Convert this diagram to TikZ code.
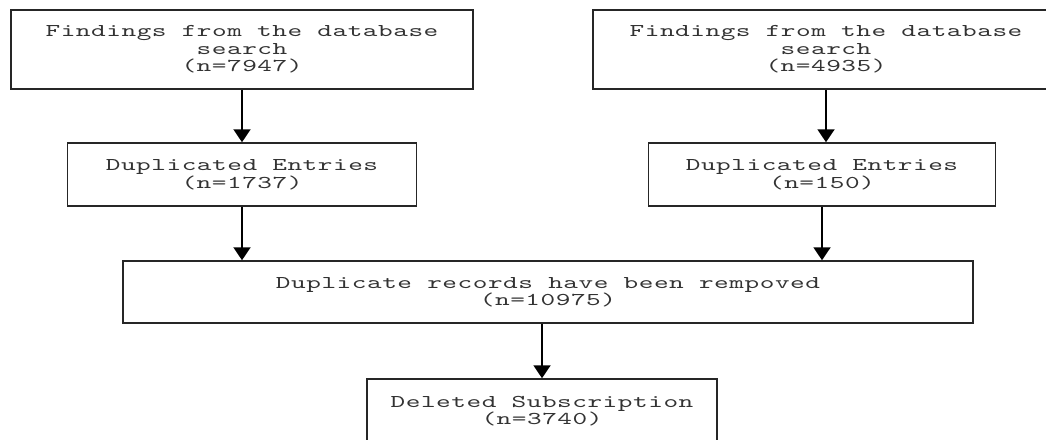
\documentclass[tikz,border=0pt]{standalone}
\usepackage{fontspec}
\usetikzlibrary{arrows.meta}
\newfontfamily\boxfont[FakeStretch=1.55,LetterSpace=3]{lmmono10-regular.otf}
\begin{document}
\begin{tikzpicture}[x=1pt,y=-1pt,
  box/.style={draw=black!85,line width=1.5pt,inner sep=0pt,align=center,
    font=\boxfont\fontsize{18}{17.5}\selectfont,text=black!80},
  arr/.style={line width=2pt,draw=black,-{Triangle[width=17pt,length=13pt]}}]
\useasboundingbox (0,0) rectangle (1046,439);
\clip (0,0) rectangle (1046,439);
\node[box,minimum width=462pt,minimum height=79pt] (b1) at (242,49.5) {Findings from the database\\search\\(n=7947)};
\node[box,minimum width=466pt,minimum height=79pt] (b2) at (826,49.5) {Findings from the database\\search\\(n=4935)};
\node[box,minimum width=349pt,minimum height=63pt] (d1) at (242,174.5) {Duplicated Entries\\(n=1737)};
\node[box,minimum width=347pt,minimum height=63pt] (d2) at (822,174.5) {Duplicated Entries\\(n=150)};
\node[box,minimum width=850pt,minimum height=62pt] (m) at (548,292) {Duplicate records have been rempoved\\(n=10975)};
\node[box,minimum width=350pt,minimum height=64pt] (e) at (542,411) {Deleted Subscription\\(n=3740)};
\draw[arr] (b1.south) -- (b1.south |- d1.north);
\draw[arr] (b2.south) -- (b2.south |- d2.north);
\draw[arr] (d1.south) -- (d1.south |- m.north);
\draw[arr] (d2.south) -- (d2.south |- m.north);
\draw[arr] (e.north |- m.south) -- (e.north);
\end{tikzpicture}
\end{document}
